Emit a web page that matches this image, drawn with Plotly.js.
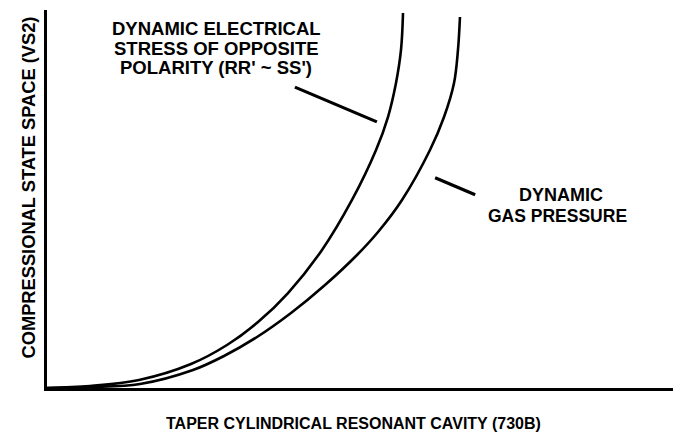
<!DOCTYPE html>
<html>
<head>
<meta charset="utf-8">
<script src="https://cdn.plot.ly/plotly-3.0.1.min.js"></script>
<style>html,body{margin:0;padding:0;background:#fff;}#chart{width:673px;height:445px;}</style>
</head>
<body>
<div id="chart"></div>
<script>
// Values (axis units 0-100, no ticks shown)
const electricalX = [0, 6.87, 14.70, 23.00, 28.75, 33.71, 38.50, 43.93, 48.72, 52.56, 54.47, 55.75, 56.55, 56.87];
const electricalY = [0, 0.53, 2.12, 6.35, 11.38, 17.46, 25.13, 36.51, 49.74, 62.96, 71.69, 80.69, 89.42, 99.21];
const gasX = [0, 6.87, 14.86, 23.32, 28.27, 33.55, 38.98, 44.41, 49.52, 52.88, 56.71, 61.18, 63.42, 65.02, 65.65, 65.97];
const gasY = [0, 0.26, 1.06, 4.76, 8.47, 13.49, 19.84, 27.25, 35.19, 41.27, 49.74, 62.96, 71.69, 80.69, 89.42, 98.15];
const leader1X = [39.6, 52.7];
const leader1Y = [79.6, 70.4];
const leader2X = [62.0, 68.4];
const leader2Y = [55.6, 51.1];
const label1Lines = ["DYNAMIC ELECTRICAL", "STRESS OF OPPOSITE", "POLARITY (RR' ~ SS')"];
const label2Lines = ["DYNAMIC", "GAS PRESSURE"];
const xTitle = "TAPER CYLINDRICAL RESONANT CAVITY (730B)";
const yTitle = "COMPRESSIONAL STATE SPACE (VS2)";

const font = {family: "'Liberation Sans', Arial, sans-serif", color: "#000"};
const lineStyle = {color: "#000", width: 2.6, shape: "spline", smoothing: 1};

const traces = [
  {x: electricalX, y: electricalY, mode: "lines", line: lineStyle, hoverinfo: "skip", showlegend: false},
  {x: gasX, y: gasY, mode: "lines", line: lineStyle, hoverinfo: "skip", showlegend: false}
];

function txt(text, x, y, size, angle) {
  return {text: "<b>" + text + "</b>", xref: "paper", yref: "paper", x: x, y: y,
    xanchor: "center", yanchor: "middle", showarrow: false, textangle: angle || 0,
    borderpad: 0, font: Object.assign({size: size}, font)};
}

const annotations = [
  txt(label1Lines[0], 0.270, 0.951, 18.5),
  txt(label1Lines[1], 0.270, 0.899, 18.5),
  txt(label1Lines[2], 0.270, 0.847, 18.5),
  txt(label2Lines[0], 0.821, 0.511, 18),
  txt(label2Lines[1], 0.816, 0.455, 17.5),
  txt(xTitle, 0.490, -0.095, 16),
  txt(yTitle, -0.029, 0.530, 18.3, -90)
];

const shapes = [
  {type: "line", xref: "x", yref: "y", x0: leader1X[0], y0: leader1Y[0], x1: leader1X[1], y1: leader1Y[1], line: {color: "#000", width: 3.2}},
  {type: "line", xref: "x", yref: "y", x0: leader2X[0], y0: leader2Y[0], x1: leader2X[1], y1: leader2Y[1], line: {color: "#000", width: 3.2}}
];

const layout = {
  width: 673, height: 445,
  margin: {l: 47, r: 0, t: 10, b: 57},
  paper_bgcolor: "#fff", plot_bgcolor: "#fff",
  xaxis: {range: [0, 100], showline: true, linecolor: "#000", linewidth: 3, showgrid: false, zeroline: false, showticklabels: false, ticks: ""},
  yaxis: {range: [0, 100], showline: true, linecolor: "#000", linewidth: 3, showgrid: false, zeroline: false, showticklabels: false, ticks: ""},
  annotations: annotations,
  shapes: shapes,
  showlegend: false
};

Plotly.newPlot("chart", traces, layout, {staticPlot: true, displayModeBar: false});
</script>
</body>
</html>
